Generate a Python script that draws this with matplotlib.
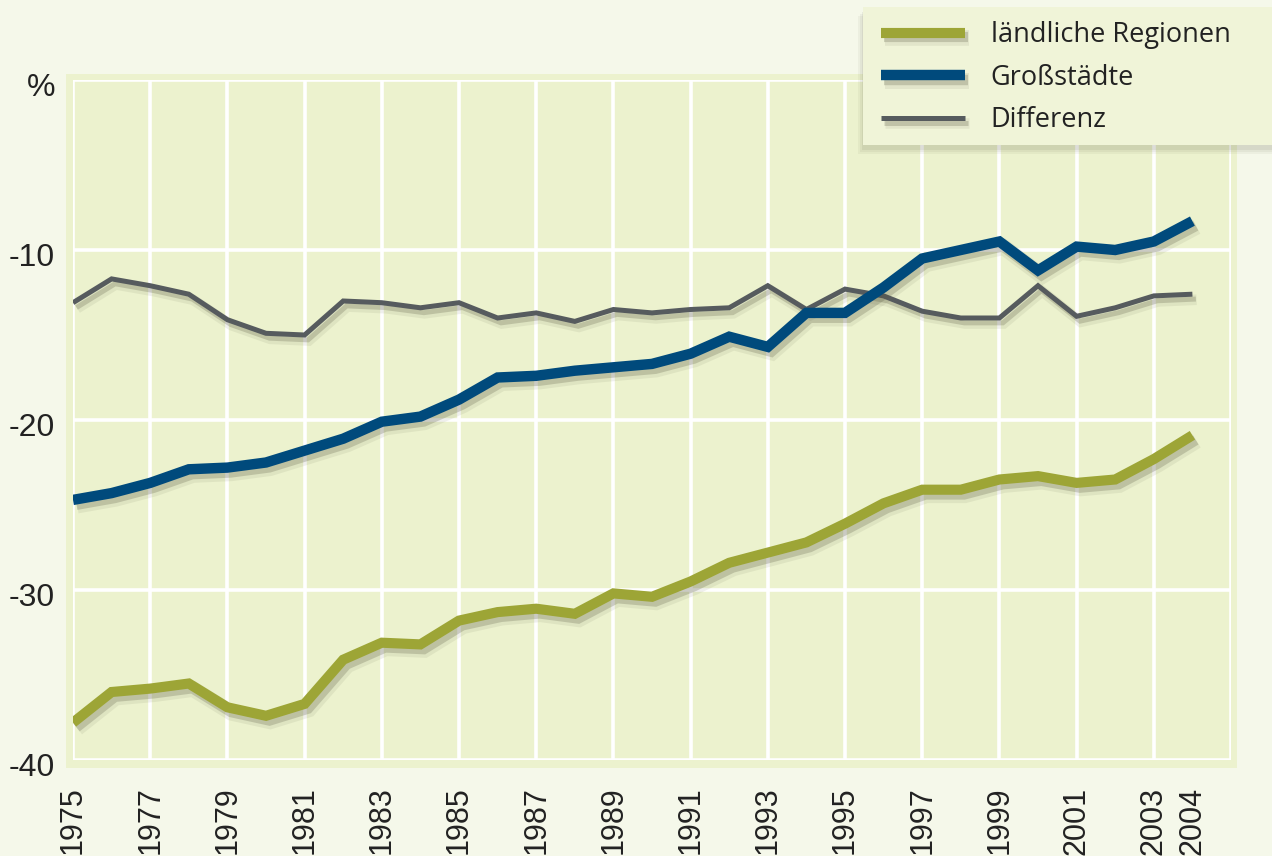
import matplotlib
matplotlib.use("Agg")
import matplotlib.pyplot as plt
import matplotlib.patheffects as pe
from matplotlib.patches import Rectangle
from matplotlib.transforms import ScaledTranslation
import numpy as np

years = list(range(1975, 2005))
laendlich = [-37.8, -36.0, -35.8, -35.5, -36.9, -37.4, -36.7, -34.1, -33.1, -33.2,
             -31.8, -31.3, -31.1, -31.4, -30.2, -30.4, -29.5, -28.4, -27.8, -27.2,
             -26.1, -24.9, -24.1, -24.1, -23.5, -23.3, -23.7, -23.5, -22.3, -20.9]
grossstaedte = [-24.7, -24.3, -23.7, -22.9, -22.8, -22.5, -21.8, -21.1, -20.1, -19.8,
                -18.8, -17.5, -17.4, -17.1, -16.9, -16.7, -16.1, -15.1, -15.7, -13.7,
                -13.7, -12.2, -10.5, -10.0, -9.5, -11.2, -9.8, -10.0, -9.5, -8.3]
differenz = [-13.1, -11.7, -12.1, -12.6, -14.1, -14.9, -15.0, -13.0, -13.1, -13.4,
             -13.1, -14.0, -13.7, -14.2, -13.5, -13.7, -13.5, -13.4, -12.1, -13.5,
             -12.3, -12.7, -13.6, -14.0, -14.0, -12.1, -13.9, -13.4, -12.7, -12.6]
series_labels = ["ländliche Regionen", "Großstädte", "Differenz"]
grid_years = list(range(1975, 2006, 2))
xtick_labels = [str(y) if y != 2005 else "" for y in grid_years]
yticks = [-40, -30, -20, -10, 0]
ytick_labels = ["-40", "-30", "-20", "-10", "%"]

W, H = 1272, 856
fig = plt.figure(figsize=(W / 100, H / 100), dpi=100, facecolor="#F5F8EA")

# plot background panel (slightly larger than axes)
fig.patches.append(Rectangle((66 / W, (H - 768) / H), (1237 - 66) / W, (768 - 74) / H,
                             transform=fig.transFigure, facecolor="#ECF2CE",
                             edgecolor="none", zorder=0))

ax = fig.add_axes([73 / W, (H - 760) / H, (1231 - 73) / W, (760 - 80) / H])
ax.set_zorder(2)
ax.set_facecolor("none")
for s in ax.spines.values():
    s.set_visible(False)
ax.set_xlim(1975, 2005)
ax.set_ylim(-40, 0)
ax.set_axisbelow(True)

ax.set_xticks(grid_years)
ax.set_xticklabels(xtick_labels)
ax.set_xticks([2004], minor=True)
ax.set_xticklabels(["2004"], minor=True)
ax.set_yticks(yticks)
ax.set_yticklabels(ytick_labels)
ax.grid(True, which="major", color="white", lw=2.6)
ax.tick_params(which="both", length=0)
fam = ["Liberation Sans Narrow", "Liberation Sans", "DejaVu Sans"]
for lab in ax.get_xticklabels(which="both"):
    lab.set_rotation(90)
    lab.set_fontsize(22)
    lab.set_color("#222222")
    lab.set_fontfamily(fam)
    lab.set_va("top")
for lab in ax.get_xticklabels(minor=True):
    lab.set_transform(lab.get_transform() + ScaledTranslation(0.04, 0, fig.dpi_scale_trans))
ax.tick_params(axis="x", which="both", pad=19)
ax.tick_params(axis="y", pad=13)
for lab in ax.get_yticklabels():
    lab.set_fontsize(23)
    lab.set_color("#222222")
    lab.set_fontfamily(fam)
    lab.set_transform(lab.get_transform() + ScaledTranslation(0, -0.05, fig.dpi_scale_trans))


def shadow(lw):
    return [pe.SimpleLineShadow(offset=(3, -4), shadow_color="#6a6a50", alpha=0.10, linewidth=lw + 4),
            pe.SimpleLineShadow(offset=(2.5, -3.5), shadow_color="#55553f", alpha=0.24),
            pe.Normal()]


l1, = ax.plot(years, laendlich, color="#9DA536", lw=7.3, solid_capstyle="butt",
              solid_joinstyle="miter", path_effects=shadow(7.3), label=series_labels[0], zorder=3)
l2, = ax.plot(years, grossstaedte, color="#004A7C", lw=7.5, solid_capstyle="butt",
              solid_joinstyle="miter", path_effects=shadow(7.5), label=series_labels[1], zorder=4)
l3, = ax.plot(years, differenz, color="#565B5E", lw=3.6, solid_capstyle="butt",
              solid_joinstyle="miter", path_effects=shadow(3.6), label=series_labels[2], zorder=3)

# legend box with soft shadow (drawn above the axes)
lax = fig.add_axes([0, 0, 1, 1], zorder=5)
lax.set_axis_off()
lax.set_xlim(0, W)
lax.set_ylim(H, 0)
for i, a in enumerate([0.05, 0.06, 0.08]):
    d = 3 + 2 * (2 - i)
    lax.add_patch(Rectangle((863 - d + 2, 7 + d + 2), W - 863 + 20, 145 - 7,
                            facecolor="#4a4a30", alpha=a, edgecolor="none"))
lax.add_patch(Rectangle((863, 7), W - 863 + 10, 145 - 7,
                        facecolor="#F0F4D8", edgecolor="none"))

leg = lax.legend(handles=[l1, l2, l3], labels=series_labels, loc="upper left",
                 bbox_to_anchor=(881 / W, 1 - 21 / H), bbox_transform=fig.transFigure,
                 frameon=False,
                 prop=dict(family=["Open Sans", "DejaVu Sans"], size=19.5),
                 handlelength=3.1, handletextpad=0.95, labelspacing=0.54, borderpad=0,
                 borderaxespad=0)
for t in leg.get_texts():
    t.set_color("#222222")

fig.savefig("out.png", dpi=100, facecolor=fig.get_facecolor())
